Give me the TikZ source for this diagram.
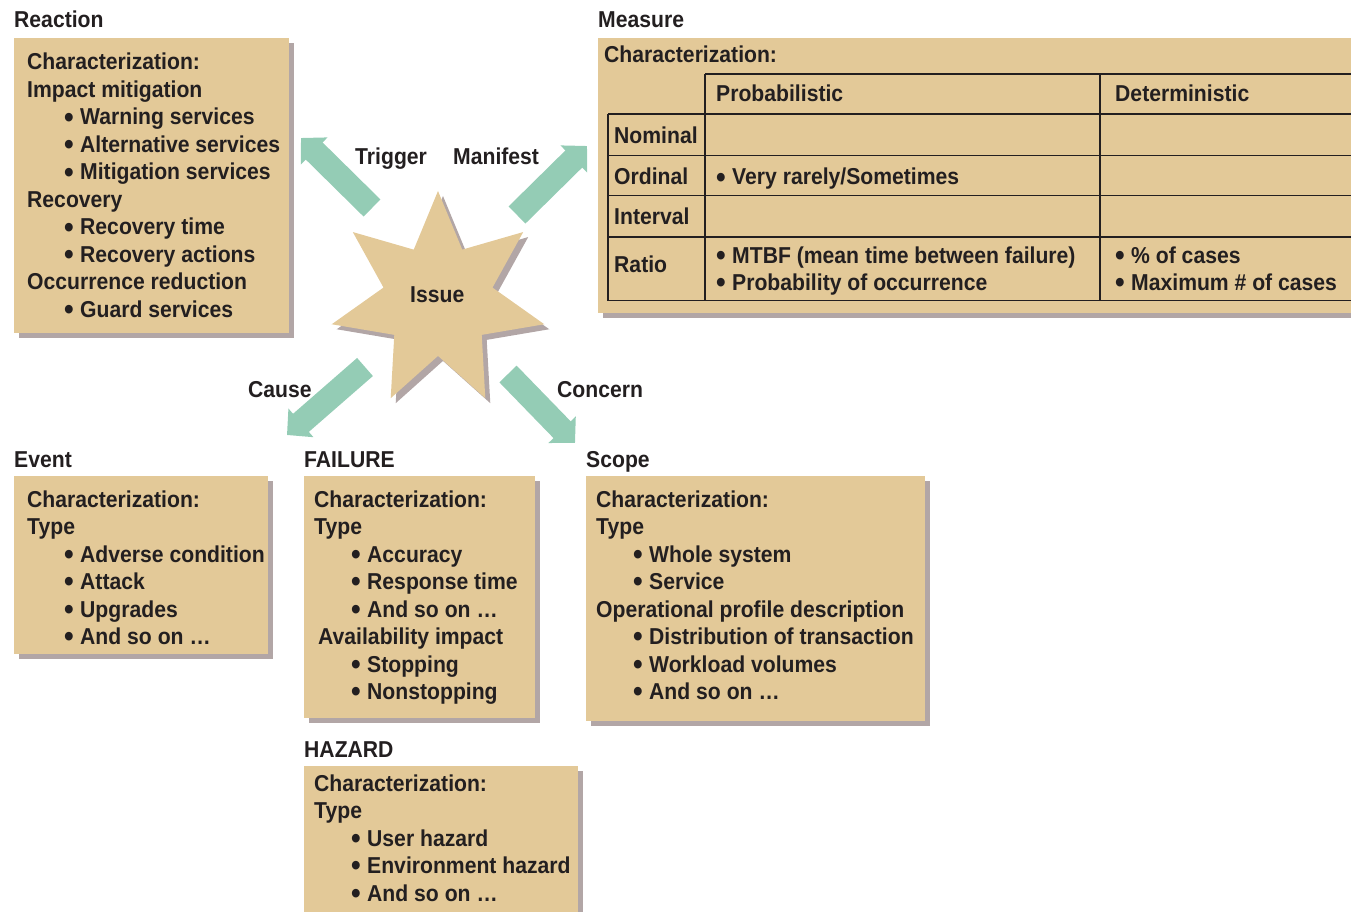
\documentclass[tikz,border=0pt]{standalone}
\usepackage{graphicx}
\usepackage{fontspec}
\setmainfont{Liberation Sans}[FakeStretch=0.92]
\usetikzlibrary{shapes.geometric,arrows.meta,shadows}

\definecolor{boxtan}{RGB}{227,201,152}
\definecolor{boxshade}{RGB}{178,166,166}
\definecolor{arrowgreen}{RGB}{148,204,181}
\definecolor{ink}{RGB}{35,31,32}

\newcommand\bodyfont{\fontsize{23}{27.5}\selectfont\bfseries}
\newcommand\dotmark{\raisebox{-2.4pt}{\scalebox{1.3}{\textbullet}}}
\newcommand\bl[1]{\hspace*{37pt}\makebox[16pt][l]{\dotmark}#1}
\newcommand\blt[1]{\makebox[16pt][l]{\dotmark}#1}
\newcommand\lines[1]{\begin{tabular}[t]{@{}l@{}}#1\end{tabular}}

\tikzset{
  panel/.style={fill=boxtan, draw=none, anchor=north west, inner sep=0,
    drop shadow={shadow xshift=5pt, shadow yshift=-5pt, fill=boxshade, opacity=1}},
  txt/.style={anchor=base west, inner sep=0, text=ink, font=\bodyfont},
  grid/.style={draw=ink, line width=1.2pt},
  bigarrow/.style={draw=arrowgreen, line width=24pt,
    -{Triangle[width=37pt, length=18.5pt]}},
}

\begin{document}
\begin{tikzpicture}[x=1pt, y=-1pt]
\useasboundingbox (0,0) rectangle (1351,912);

% ---- panels ----
\node[panel, minimum width=275pt, minimum height=295pt] (reactbox) at (14,38) {};
\node[panel, minimum width=753pt, minimum height=275pt] (measbox) at (598,38) {};
\node[panel, minimum width=254pt, minimum height=178pt] (eventbox) at (14,476) {};
\node[panel, minimum width=231pt, minimum height=242pt] (failbox) at (304,476) {};
\node[panel, minimum width=339pt, minimum height=245pt] (scopebox) at (586,476) {};
\node[panel, minimum width=274pt, minimum height=146pt] (hazbox) at (304,766) {};

% ---- central star ----
\node[star, star points=7, star point ratio=1.95, minimum size=218pt,
      inner sep=0, fill=boxtan, draw=none,
      drop shadow={shadow xshift=5pt, shadow yshift=-5pt, fill=boxshade, opacity=1}]
      (issue) at (438,300) {};
\node[txt] (issuetxt) at (410,302) {Issue};

% ---- arrows ----
\coordinate (trigS) at (372,208);  \coordinate (trigE) at (301,138);
\coordinate (manS)  at (517,215);  \coordinate (manE)  at (587,146);
\coordinate (cauS)  at (365,367);  \coordinate (cauE)  at (287,435);
\coordinate (conS)  at (508,374);  \coordinate (conE)  at (575,443);
\draw[bigarrow] (trigS) -- (trigE);
\draw[bigarrow] (manS) -- (manE);
\draw[bigarrow] (cauS) -- (cauE);
\draw[bigarrow] (conS) -- (conE);
\node[txt] (trigtxt) at (355,165) {Trigger};
\node[txt] (mantxt) at (453,165) {Manifest};
\node[txt] (cautxt) at (248,397) {Cause};
\node[txt] (contxt) at (557,397) {Concern};

% ---- titles ----
\node[txt] (t1) at (14,28) {Reaction};
\node[txt] (t2) at (598,28) {Measure};
\node[txt] (t3) at (14,467) {Event};
\node[txt] (t4) at (304,467) {FAILURE};
\node[txt] (t5) at (586,467) {Scope};
\node[txt] (t6) at (304,757) {HAZARD};

% ---- panel contents ----
\node[txt] (reacttxt) at (27,70) {\lines{Characterization:\\ Impact mitigation\\
  \bl{Warning services}\\ \bl{Alternative services}\\ \bl{Mitigation services}\\
  Recovery\\ \bl{Recovery time}\\ \bl{Recovery actions}\\ Occurrence reduction\\
  \bl{Guard services}}};
\node[txt] (eventtxt) at (27,507) {\lines{Characterization:\\ Type\\
  \bl{Adverse condition}\\ \bl{Attack}\\ \bl{Upgrades}\\ \bl{And so on \dots}}};
\node[txt] (failtxt) at (314,507) {\lines{Characterization:\\ Type\\
  \bl{Accuracy}\\ \bl{Response time}\\ \bl{And so on \dots}\\
  \hspace*{4pt}Availability impact\\ \bl{Stopping}\\ \bl{Nonstopping}}};
\node[txt] (scopetxt) at (596,507) {\lines{Characterization:\\ Type\\
  \bl{Whole system}\\ \bl{Service}\\ Operational profile description\\
  \bl{Distribution of transaction}\\ \bl{Workload volumes}\\ \bl{And so on \dots}}};
\node[txt] (haztxt) at (314,791) {\lines{Characterization:\\ Type\\
  \bl{User hazard}\\ \bl{Environment hazard}\\ \bl{And so on \dots}}};

% ---- measure table ----
\node[txt] (meastxt) at (604,63) {Characterization:};
\draw[grid] (705,74) -- (1351,74);
\foreach \yy in {114,155.5,195.5,237,300.5}
  \draw[grid] (608,\yy) -- (1351,\yy);
\draw[grid] (608,114) -- (608,300.5);
\draw[grid] (705,74) -- (705,300.5);
\draw[grid] (1100,74) -- (1100,300.5);
\node[txt] (hprob) at (716,102) {Probabilistic};
\node[txt] (hdet) at (1115,102) {Deterministic};
\node[txt] (rnom) at (614,144) {Nominal};
\node[txt] (rord) at (614,185) {Ordinal};
\node[txt] (rint) at (614,224) {Interval};
\node[txt] (rrat) at (614,272) {Ratio};
\node[txt] (cord) at (716,185) {\blt{Very rarely/Sometimes}};
\node[txt] (cprob) at (716,263) {\lines{\blt{MTBF (mean time between failure)}\\ \blt{Probability of occurrence}}};
\node[txt] (cdet) at (1115,263) {\lines{\blt{\% of cases}\\ \blt{Maximum \# of cases}}};
\end{tikzpicture}
\end{document}
